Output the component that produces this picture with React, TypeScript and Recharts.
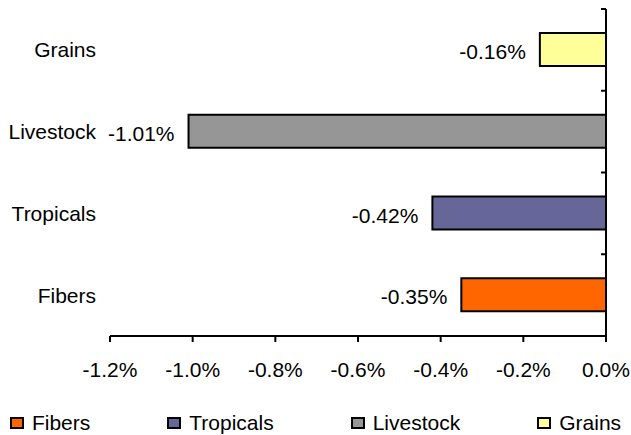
import React from 'react';
import {
  BarChart,
  Bar,
  XAxis,
  YAxis,
  Legend,
  LabelList,
} from 'recharts';

// categories listed top to bottom
const categories = ['Grains', 'Livestock', 'Tropicals', 'Fibers'];

// one series per commodity group, value only on its own row (percent change)
const fibers = [null, null, null, -0.35];
const tropicals = [null, null, -0.42, null];
const livestock = [null, -1.01, null, null];
const grains = [-0.16, null, null, null];

const xTicks = [-1.2, -1.0, -0.8, -0.6, -0.4, -0.2, 0.0];
const edgeTicks = [0, 1, 2, 3, 4];

const series = [
  { key: 'Fibers', values: fibers, color: '#FF6600' },
  { key: 'Tropicals', values: tropicals, color: '#666699' },
  { key: 'Livestock', values: livestock, color: '#969696' },
  { key: 'Grains', values: grains, color: '#FFFF99' },
];

const data = categories.map((name, i) => {
  const row: Record<string, any> = { name, edge: i + 0.5 };
  series.forEach((s) => {
    if (s.values[i] != null) row[s.key] = s.values[i];
  });
  return row;
});

const FONT = '"Liberation Sans", Arial, sans-serif';

const ValueLabel: React.FC<any> = ({ x, y, width, height, value }) => {
  if (value == null || isNaN(Number(value))) return null;
  const left = Math.min(Number(x), Number(x) + Number(width));
  return (
    <text
      x={left - 14}
      y={Number(y) + Number(height) / 2 + 2}
      textAnchor="end"
      dominantBaseline="central"
      fontSize={21}
      fontFamily={FONT}
      fill="#000"
    >
      {`${Number(value).toFixed(2)}%`}
    </text>
  );
};

// the zero axis carries tick marks only, no labels
const NoTickLabel = () => <g />;

const LegendContent: React.FC<any> = () => (
  <div
    style={{
      display: 'flex',
      justifyContent: 'center',
      gap: 77,
      height: 24,
      lineHeight: '24px',
      fontFamily: FONT,
      fontSize: 21,
      color: '#000',
    }}
  >
    {series.map((s) => (
      <div key={s.key} style={{ display: 'flex', alignItems: 'center' }}>
        <span
          style={{
            display: 'inline-block',
            width: 14,
            height: 12,
            boxSizing: 'border-box',
            border: '2.5px solid #000',
            background: s.color,
            marginRight: 8,
          }}
        />
        <span>{s.key}</span>
      </div>
    ))}
  </div>
);

const App: React.FC = () => {
  return (
    <div style={{ position: 'absolute', left: 0, top: 0, background: '#fff' }}>
      <BarChart
        width={631}
        height={435}
        data={data}
        layout="vertical"
        margin={{ top: 9, right: 25, left: 0, bottom: 0 }}
        style={{ fontFamily: FONT }}
      >
        <XAxis
          type="number"
          domain={[-1.2, 0]}
          ticks={xTicks}
          interval={0}
          height={75}
          tickFormatter={(v: number) => `${v.toFixed(1)}%`}
          tick={{ fill: '#000', fontSize: 21, fontFamily: FONT }}
          axisLine={{ stroke: '#000', strokeWidth: 2 }}
          tickLine={{ stroke: '#000', strokeWidth: 2 }}
          tickSize={6}
          tickMargin={20}
        />
        <YAxis
          type="category"
          dataKey="name"
          width={110}
          axisLine={false}
          tickLine={false}
          tickSize={0}
          tickMargin={14}
          tick={{ fill: '#000', fontSize: 21, fontFamily: FONT }}
        />
        {/* zero line on the right with inward ticks between categories */}
        <YAxis
          yAxisId="edge"
          type="number"
          dataKey="edge"
          orientation="right"
          domain={[0, 4]}
          ticks={edgeTicks}
          interval={0}
          allowDataOverflow
          mirror
          tick={NoTickLabel}
          tickSize={5}
          axisLine={{ stroke: '#000', strokeWidth: 2 }}
          tickLine={{ stroke: '#000', strokeWidth: 2 }}
        />
        <Legend
          verticalAlign="bottom"
          content={<LegendContent />}
          wrapperStyle={{ left: 0, width: 631, height: 24 }}
        />
        {series.map((s) => (
          <Bar
            key={s.key}
            dataKey={s.key}
            stackId="a"
            fill={s.color}
            stroke="#000"
            strokeWidth={2}
            barSize={33}
            isAnimationActive={false}
          >
            <LabelList dataKey={s.key} content={<ValueLabel />} />
          </Bar>
        ))}
      </BarChart>
    </div>
  );
};

export default App;
